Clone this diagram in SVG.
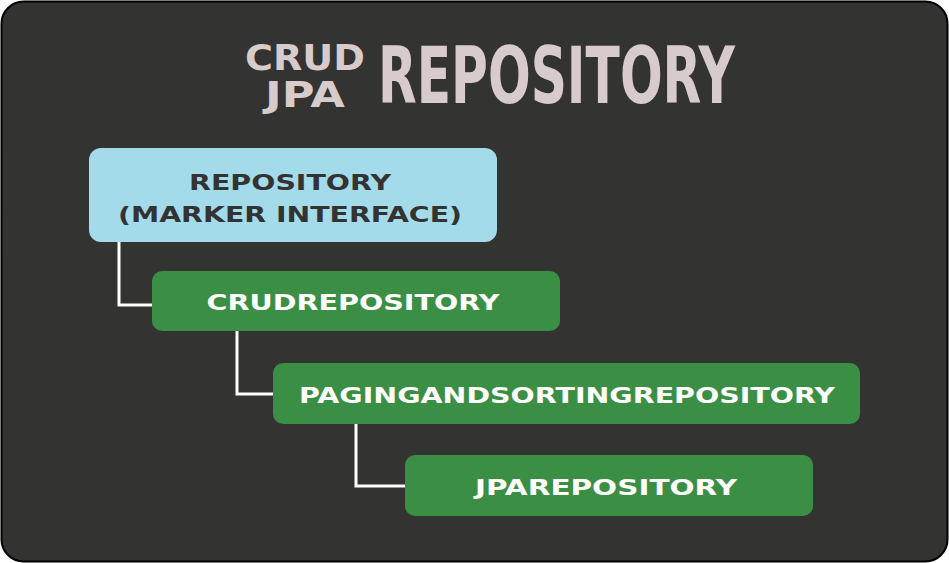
<svg xmlns="http://www.w3.org/2000/svg" width="949" height="563" viewBox="0 0 949 563">
<style>
.t{font-family:"DejaVu Sans","Liberation Sans",sans-serif;font-weight:bold;fill:#d8cbcb}
.n{font-family:"DejaVu Sans","Liberation Sans",sans-serif;font-weight:bold;font-size:22px;text-anchor:middle;fill:#ffffff}
.g{fill:#3a8f44}
.c{fill:none;stroke:#ffffff;stroke-width:3}
</style>
<rect x="1.5" y="1.5" width="946" height="560" rx="22" fill="#333331" stroke="#000" stroke-width="2"/>
<g id="title">
<text class="t" x="245" y="70" font-size="36" textLength="120" lengthAdjust="spacingAndGlyphs">CRUD</text>
<text class="t" x="265" y="107" font-size="36" textLength="80" lengthAdjust="spacingAndGlyphs">JPA</text>
<text class="t" x="378" y="103" font-size="78" textLength="357" lengthAdjust="spacingAndGlyphs">REPOSITORY</text>
</g>
<g id="connectors">
<path class="c" d="M119 242V305H152"/>
<path class="c" d="M237 331V394H273"/>
<path class="c" d="M356 424V486H405"/>
</g>
<g id="repository">
<rect x="89" y="148" width="408" height="94" rx="12" fill="#a3dbeb"/>
<text class="n" x="290" y="190" style="fill:#333331" textLength="202" lengthAdjust="spacingAndGlyphs">REPOSITORY</text>
<text class="n" x="290" y="222" style="fill:#333331" textLength="344" lengthAdjust="spacingAndGlyphs">(MARKER INTERFACE)</text>
</g>
<g id="crud">
<rect class="g" x="152" y="271" width="408" height="60" rx="10"/>
<text class="n" x="353" y="310" textLength="293" lengthAdjust="spacingAndGlyphs">CRUDREPOSITORY</text>
</g>
<g id="paging">
<rect class="g" x="273" y="363" width="587" height="61" rx="10"/>
<text class="n" x="567" y="403" textLength="536" lengthAdjust="spacingAndGlyphs">PAGINGANDSORTINGREPOSITORY</text>
</g>
<g id="jpa">
<rect class="g" x="405" y="455" width="408" height="61" rx="10"/>
<text class="n" x="606" y="495" textLength="262" lengthAdjust="spacingAndGlyphs">JPAREPOSITORY</text>
</g>
</svg>
